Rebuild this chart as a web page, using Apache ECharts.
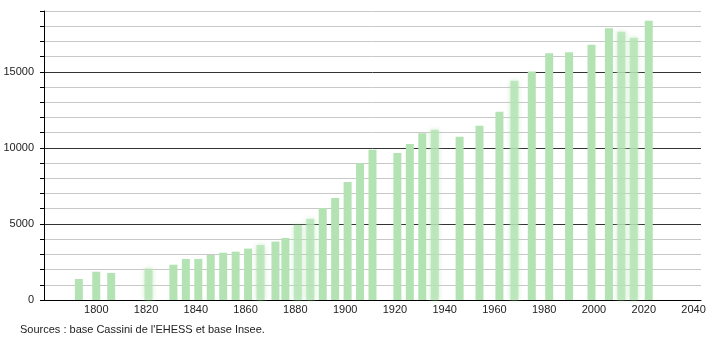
<!DOCTYPE html>
<html>
<head>
<meta charset="utf-8">
<script src="https://cdn.jsdelivr.net/npm/echarts@6/dist/echarts.min.js"></script>
<style>
  html, body { margin: 0; padding: 0; background: #fff; }
  #main { width: 710px; height: 340px; }
</style>
</head>
<body>
<div id="main"></div>
<script>
// census years and population
const years = [1793, 1800, 1806, 1821, 1831, 1836, 1841, 1846, 1851, 1856,
  1861, 1866, 1872, 1876, 1881, 1886, 1891, 1896, 1901, 1906, 1911,
  1921, 1926, 1931, 1936, 1946, 1954, 1962, 1968, 1975, 1982, 1990,
  1999, 2006, 2011, 2016, 2022]
const population = [1380, 1860, 1780, 2060, 2320, 2700, 2700, 2960, 3110, 3180,
  3380, 3620, 3840, 4080, 4930, 5330, 6050, 6710, 7760, 8990, 9870,
  9670, 10260, 10960, 11200, 10730, 11450, 12370, 14410, 15020, 16230, 16290,
  16780, 17870, 17630, 17240, 18360]
const xTickLabels = [1800, 1820, 1840, 1860, 1880, 1900, 1920, 1940, 1960, 1980, 2000, 2020, 2040]

// bars drawn with soft edges in the original
const softYears = [1821, 1866, 1881, 1886, 1936, 1968, 2011, 2016]

const green = '#b3e3b3'

const myChart = echarts.init(document.getElementById('main'))

myChart.setOption({
  animation: false,
  grid: { left: 44, right: 9, top: 11, bottom: 40 },
  xAxis: {
    type: 'value',
    min: 1779,
    max: 2043,
    axisLine: { show: true, lineStyle: { color: '#000', width: 1 } },
    axisTick: { show: false },
    splitLine: { show: false },
    axisLabel: {
      customValues: xTickLabels,
      color: '#222',
      fontSize: 11,
      fontFamily: 'Liberation Sans',
      margin: 4,
      formatter: v => String(v)
    }
  },
  yAxis: {
    type: 'value',
    min: 0,
    max: 19000,
    interval: 1000,
    axisLine: { show: true, lineStyle: { color: '#000', width: 1 } },
    axisTick: { show: true, length: 4, lineStyle: { color: '#000' } },
    axisLabel: {
      color: '#222',
      fontSize: 11,
      fontFamily: 'Liberation Sans',
      margin: 10,
      formatter: v => (v % 5000 === 0 ? String(v) : '')
    },
    splitLine: {
      show: true,
      lineStyle: { color: ['#333', '#c8c8c8', '#c8c8c8', '#c8c8c8', '#c8c8c8'], width: 1 }
    }
  },
  series: [{
    type: 'bar',
    barWidth: 8,
    data: years.map((y, i) => ({
      value: [y, population[i]],
      itemStyle: softYears.includes(y)
        ? { color: 'rgba(179,227,179,0.75)', shadowBlur: 5, shadowColor: 'rgba(179,227,179,0.9)' }
        : {}
    })),
    itemStyle: { color: green }
  }],
  graphic: [{
    type: 'text',
    left: 20,
    top: 324,
    style: {
      text: "Sources : base Cassini de l'EHESS et base Insee.",
      fontSize: 11,
      fontFamily: 'Liberation Sans',
      fill: '#222'
    }
  }]
})
</script>
</body>
</html>
